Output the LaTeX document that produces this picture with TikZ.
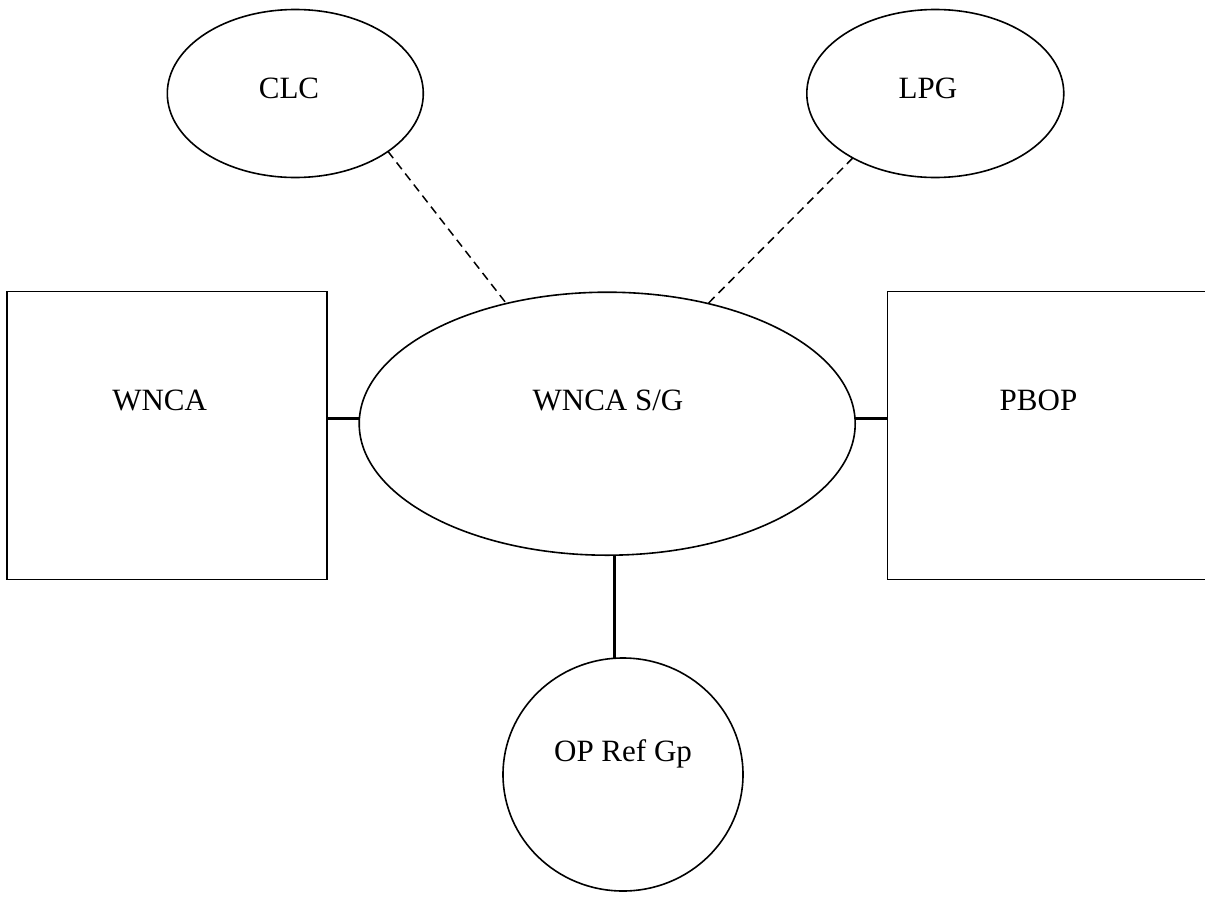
\documentclass[tikz,border=0pt]{standalone}
\usepackage{fontspec}
\setmainfont{Liberation Serif}
\usetikzlibrary{shapes.geometric}
\begin{document}
\begin{tikzpicture}[x=1pt,y=-1pt,
  shapeline/.style={draw=black, line width=1.6pt, inner sep=0pt, outer sep=0pt},
  boxnode/.style={shapeline, rectangle, minimum width=320pt, minimum height=288pt},
  ovalnode/.style={shapeline, ellipse},
  lbl/.style={anchor=base, inner sep=0pt, font=\fontsize{31}{36}\selectfont},
  thickconn/.style={line width=3pt},
  dashconn/.style={line width=1.5pt, dash pattern=on 8.5pt off 5.5pt}]
\clip (0,0) rectangle (1205,900);
\fill[white] (0,0) rectangle (1205,900);
% boxes
\node[boxnode] (wnca) at (166.7,435.5) {};
\node[boxnode] (pbop) at (1047.3,435.5) {};
% ellipses
\node[ovalnode, minimum width=256pt, minimum height=168pt] (clc) at (295.3,93.5) {};
\node[ovalnode, minimum width=257pt, minimum height=168pt] (lpg) at (935.3,93.5) {};
\node[ovalnode, minimum width=496pt, minimum height=263pt] (sg) at (607.2,423.7) {};
\node[ovalnode, minimum width=240pt, minimum height=233pt] (op) at (623,774.5) {};
% labels
\node[lbl] (clct) at (289,98.3) {CLC};
\node[lbl] (lpgt) at (928,98.3) {LPG};
\node[lbl] (wncat) at (159.7,410) {WNCA};
\node[lbl] (pbopt) at (1038.5,410) {PBOP};
\node[lbl] (sgt) at (608,410) {WNCA S/G};
\node[lbl] (opt) at (623,761.7) {OP Ref Gp};
% connectors
\coordinate (hy) at (0,418);
\draw[dashconn] (clc.-32.2) -- (sg.130.2);
\draw[dashconn] (lpg.-142.2) -- (sg.50.5);
\draw[thickconn] (sg.west |- hy) -- (wnca.east |- hy);
\draw[thickconn] (sg.east |- hy) -- (pbop.west |- hy);
\draw[thickconn] (op.94) -- (op.94 |- sg.south);
\end{tikzpicture}
\end{document}
